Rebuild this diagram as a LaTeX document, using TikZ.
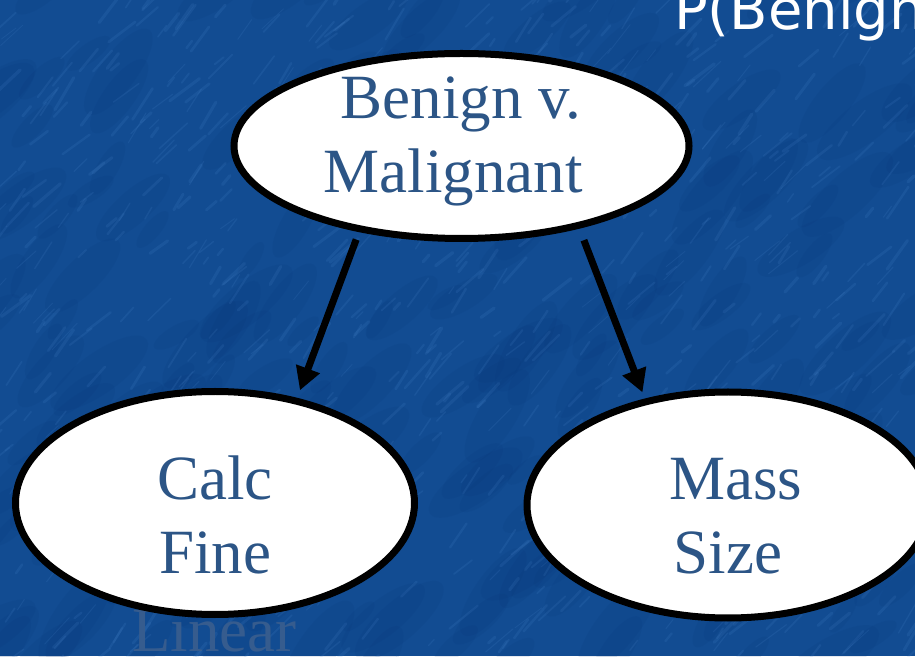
\documentclass[tikz,border=0pt]{standalone}
\usepackage{fontspec}
\setmainfont{Liberation Serif}
\newfontfamily\headsans{DejaVu Sans}
\usetikzlibrary{arrows.meta,shapes.geometric}
\definecolor{slidebg}{RGB}{18,76,146}
\definecolor{streak}{RGB}{80,140,210}
\definecolor{darkpatch}{RGB}{6,50,116}
\definecolor{nodetext}{RGB}{44,85,134}
\definecolor{ghosttext}{RGB}{54,92,142}

\begin{document}
\begin{tikzpicture}[x=1pt,y=1pt,
  bubble/.style={ellipse, draw=black, fill=white, line width=7pt, inner sep=0pt},
  bubbletext/.style={inner sep=0pt, text=nodetext, font=\fontsize{63}{74}\selectfont},
  link/.style={line width=7pt, -{Triangle[length=23pt,width=24pt]}},
]
\useasboundingbox (0,0) rectangle (915,656);
\fill[slidebg] (0,0) rectangle (915,656);

% mottled slide texture: darker patches and light diagonal streaks
\pgfmathsetseed{42}
\foreach \k in {1,...,220}{
  \pgfmathsetmacro{\px}{rnd*955-20}
  \pgfmathsetmacro{\py}{rnd*696-20}
  \pgfmathsetmacro{\rr}{20+rnd*40}
  \pgfmathsetmacro{\rot}{30+rnd*30}
  \fill[darkpatch, opacity=0.10, rotate around={\rot:(\px,\py)}] (\px,\py) ellipse ({\rr} and {\rr*0.35});
}
\foreach \k in {1,...,800}{
  \pgfmathsetmacro{\px}{rnd*955-20}
  \pgfmathsetmacro{\py}{rnd*696-20}
  \pgfmathsetmacro{\ang}{35+rnd*25}
  \pgfmathsetmacro{\len}{8+rnd*30}
  \pgfmathsetmacro{\lw}{0.8+rnd*2.5}
  \draw[streak, opacity=0.14, line width=\lw pt, line cap=round] (\px,\py) -- ++(\ang:\len);
}

% half-hidden word behind the lower left bubble
\node[bubbletext, text=ghosttext, anchor=base west] (linear) at (132,5) {Linear};

% bubbles
\node[bubble, minimum width=455pt, minimum height=185pt] (benign) at (461.5,510) {};
\node[bubble, minimum width=399pt, minimum height=223pt] (calc) at (215,153) {};
\node[bubble, minimum width=402pt, minimum height=226pt] (mass) at (728,151) {};

% bubble labels
\node[bubbletext] (benign-t) at (461,514.8)
  {\begin{tabular}{@{}c@{}}Benign v.\\Malignant\kern.25em\end{tabular}};
\node[bubbletext] (calc-t) at (215,134.8)
  {\begin{tabular}{@{}c@{}}Calc\\Fine\end{tabular}};
\node[bubbletext] (mass-t) at (736,134.8)
  {\begin{tabular}{@{}c@{}}Mass\\Size\kern.25em\end{tabular}};

% edges
\draw[link, shorten <=8pt, shorten >=8pt] (benign.220) -- (calc.52);
\draw[link, shorten <=12.5pt, shorten >=6.6pt] (benign.325) -- (mass.128);

% heading running off the top right
\node[anchor=base west, inner sep=0pt, text=white,
      font=\headsans\fontsize{56}{64}\selectfont] (heading) at (674,626) {P(Benign};
\end{tikzpicture}
\end{document}
